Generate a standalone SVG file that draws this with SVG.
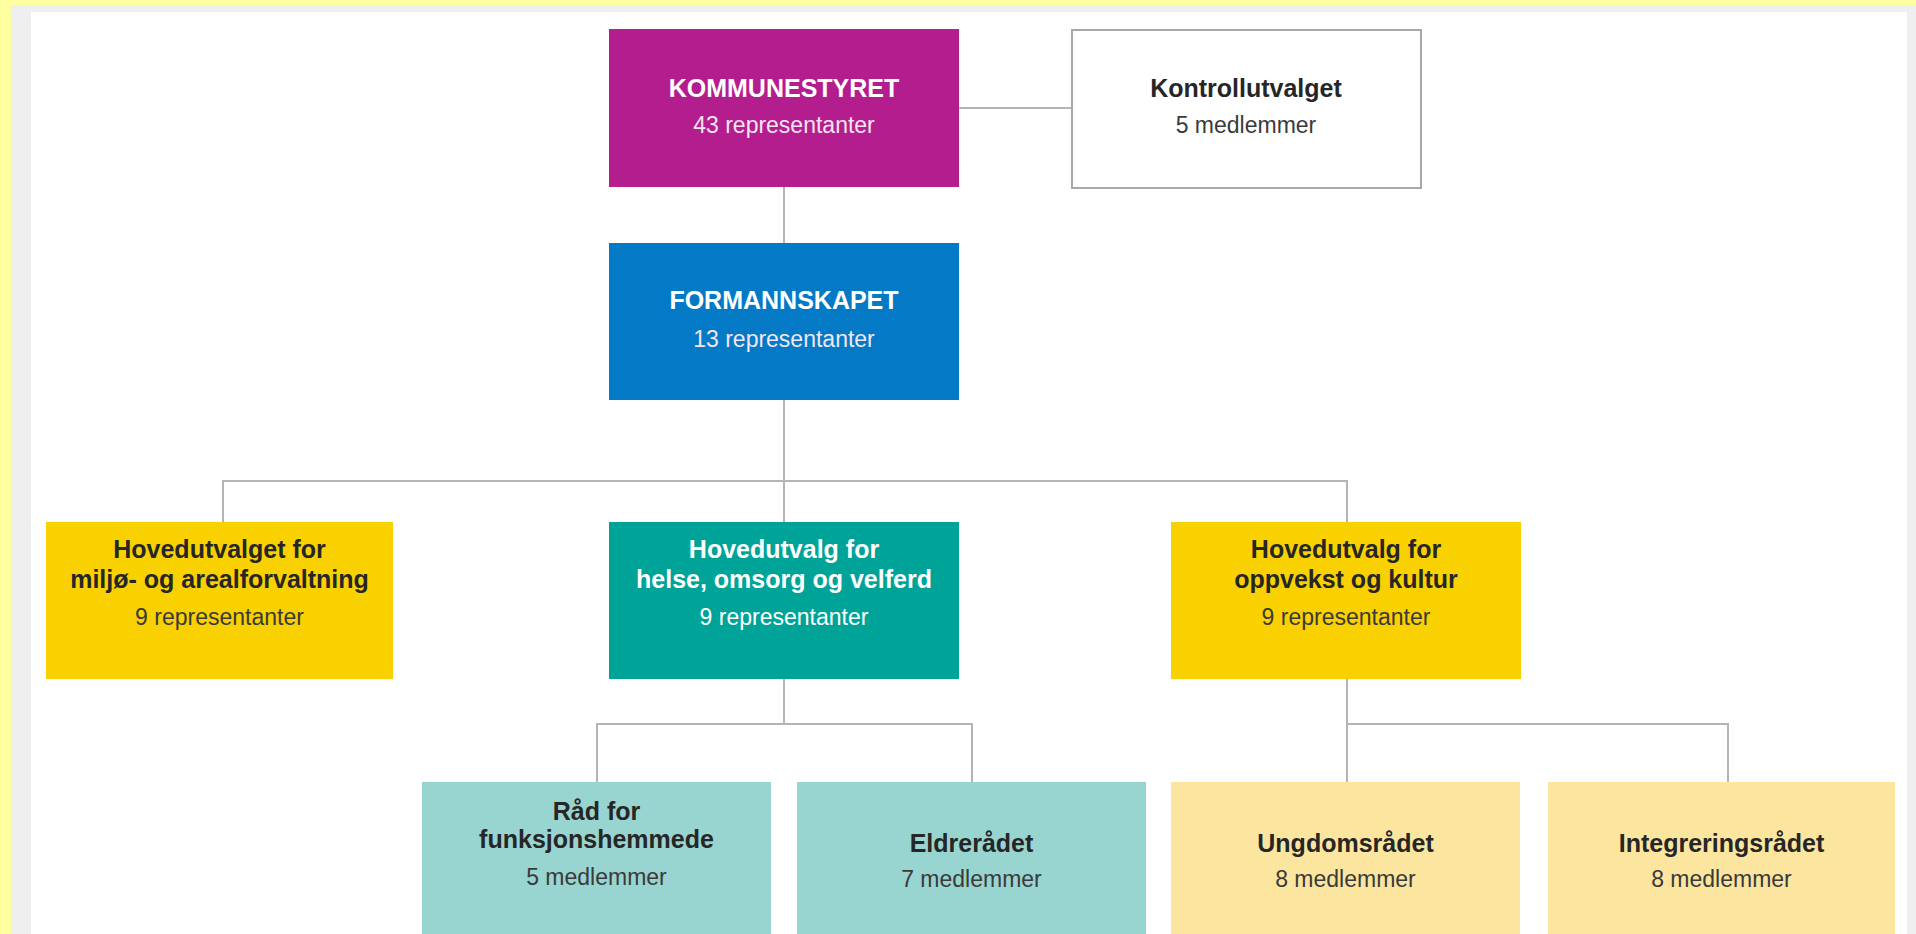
<svg xmlns="http://www.w3.org/2000/svg" width="1916" height="934" viewBox="0 0 1916 934">
<style>
.t{font-family:"Liberation Sans",Arial,sans-serif;font-size:23px;text-anchor:middle}
.b{font-weight:bold;font-size:25px}
.w{fill:#ffffff}
.wd{fill:#f3e6f0}
.d{fill:#262626}
.ds{fill:#3a3a3a}
.con{stroke:#b4b4b4;stroke-width:2;fill:none}
</style>
<rect x="0" y="0" width="1916" height="934" fill="#ffff9f"/>
<rect x="11" y="5" width="1905" height="929" fill="#efefef"/>
<rect x="31" y="12" width="1876" height="922" fill="#ffffff"/>
<g id="connectors">
<path class="con" d="M959 108H1072"/>
<path class="con" d="M784 187V243"/>
<path class="con" d="M784 400V522"/>
<path class="con" d="M223 522V481H1347V522"/>
<path class="con" d="M784 679V724"/>
<path class="con" d="M597 782V724H972V782"/>
<path class="con" d="M1347 679V782"/>
<path class="con" d="M1347 724H1728V782"/>
</g>
<g id="kommunestyret">
<rect x="609" y="29" width="350" height="158" fill="#b41d8e"/>
<text class="t b w" x="784" y="97" font-size="24">KOMMUNESTYRET</text>
<text class="t wd" x="784" y="133">43 representanter</text>
</g>
<g id="kontrollutvalget">
<rect x="1072" y="30" width="349" height="158" fill="#ffffff" stroke="#a8a8a8" stroke-width="2"/>
<text class="t b d" x="1246" y="97">Kontrollutvalget</text>
<text class="t ds" x="1246" y="133">5 medlemmer</text>
</g>
<g id="formannskapet">
<rect x="609" y="243" width="350" height="157" fill="#0479c6"/>
<text class="t b w" x="784" y="309">FORMANNSKAPET</text>
<text class="t wd" x="784" y="347">13 representanter</text>
</g>
<g id="miljo">
<rect x="46" y="522" width="347" height="157" fill="#f9d100"/>
<text class="t b d" x="219.5" y="558">Hovedutvalget for</text>
<text class="t b d" x="219.5" y="588">miljø-  og arealforvaltning</text>
<text class="t ds" x="219.5" y="625">9 representanter</text>
</g>
<g id="helse">
<rect x="609" y="522" width="350" height="157" fill="#00a398"/>
<text class="t b w" x="784" y="558">Hovedutvalg for</text>
<text class="t b w" x="784" y="588">helse, omsorg og velferd</text>
<text class="t w" x="784" y="625">9 representanter</text>
</g>
<g id="oppvekst">
<rect x="1171" y="522" width="350" height="157" fill="#f9d100"/>
<text class="t b d" x="1346" y="558">Hovedutvalg for</text>
<text class="t b d" x="1346" y="588">oppvekst og kultur</text>
<text class="t ds" x="1346" y="625">9 representanter</text>
</g>
<g id="funksjonshemmede">
<rect x="422" y="782" width="349" height="160" fill="#98d4d0"/>
<text class="t b d" x="596.5" y="820">Råd for</text>
<text class="t b d" x="596.5" y="848">funksjonshemmede</text>
<text class="t ds" x="596.5" y="885">5 medlemmer</text>
</g>
<g id="eldreradet">
<rect x="797" y="782" width="349" height="160" fill="#98d4d0"/>
<text class="t b d" x="971.5" y="852">Eldrerådet</text>
<text class="t ds" x="971.5" y="887">7 medlemmer</text>
</g>
<g id="ungdomsradet">
<rect x="1171" y="782" width="349" height="160" fill="#fbe59f"/>
<text class="t b d" x="1345.5" y="852">Ungdomsrådet</text>
<text class="t ds" x="1345.5" y="887">8 medlemmer</text>
</g>
<g id="integreringsradet">
<rect x="1548" y="782" width="347" height="160" fill="#fbe59f"/>
<text class="t b d" x="1721.5" y="852">Integreringsrådet</text>
<text class="t ds" x="1721.5" y="887">8 medlemmer</text>
</g>
</svg>
